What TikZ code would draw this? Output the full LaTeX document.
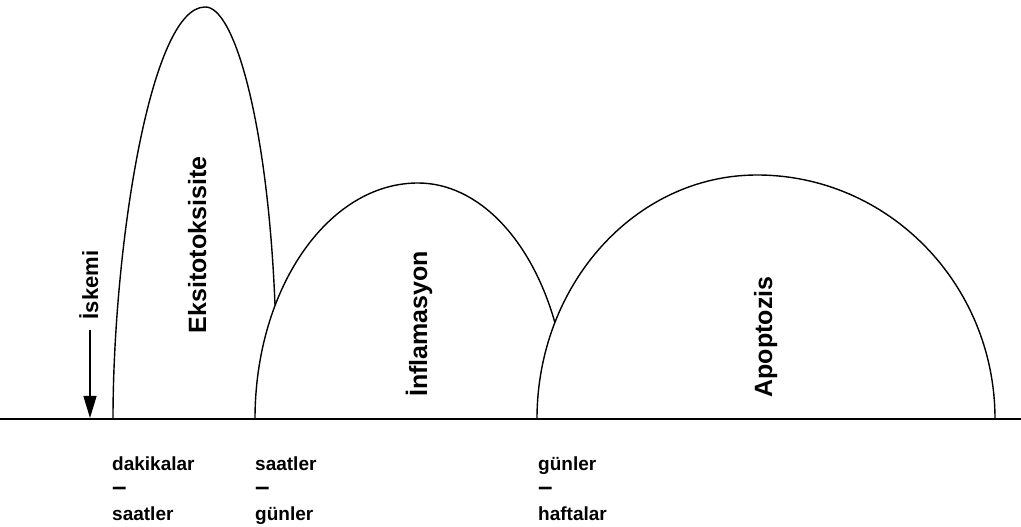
\documentclass[tikz,border=0pt]{standalone}
\usepackage{fontspec}
\setmainfont{Liberation Sans}
\usetikzlibrary{arrows.meta}
\newcommand{\tdash}{{\fontsize{26}{25}\selectfont –}}
\begin{document}
\begin{tikzpicture}[x=1pt,y=1pt,
  curve/.style={line width=1.4pt, black},
  phase/.style={font=\fontsize{25}{30}\selectfont\bfseries, rotate=90, anchor=base, inner sep=0pt},
  timelbl/.style={font=\fontsize{19}{25}\selectfont\bfseries, align=left, anchor=north west, inner sep=0pt}]
\useasboundingbox (0,0) rectangle (1021,527);
% axis
\coordinate (axL) at (0,108);
\coordinate (axR) at (1021,108);
\draw[curve] (axL) -- (axR);
% Eksitotoksisite curve
\draw[curve] (113,108) .. controls (113,277) and (150,520) .. (205,520)
  .. controls (235,521) and (268,400) .. (275,222);
% Inflamasyon curve
\draw[curve] (255,108) arc[start angle=180, end angle=90, x radius=163, y radius=236]
  arc[start angle=90, end angle=24.3, x radius=150, y radius=236];
% Apoptozis curve
\draw[curve] (537,108) arc[start angle=180, end angle=90, x radius=220, y radius=244]
  arc[start angle=90, end angle=0, x radius=238, y radius=244];
% ischemia arrow
\coordinate (a0) at (90,197);
\coordinate (a1) at (90,109);
\draw[line width=1.4pt, -{Triangle[length=22pt,width=13pt]}] (a0) -- (a1);
% phase labels
\node[phase, font=\fontsize{22}{26}\selectfont\bfseries] (isk) at (98,242) {İskemi};
\node[phase] (eks) at (206,282) {Eksitotoksisite};
\node[phase] (inf) at (427,203) {İnflamasyon};
\node[phase] (apo) at (772,190) {Apoptozis};
% time labels
\node[timelbl] (t1) at (112,70) {dakikalar\\\tdash\\saatler};
\node[timelbl] (t2) at (255,70) {saatler\\\tdash\\günler};
\node[timelbl] (t3) at (538,70) {günler\\\tdash\\haftalar};
\end{tikzpicture}
\end{document}
